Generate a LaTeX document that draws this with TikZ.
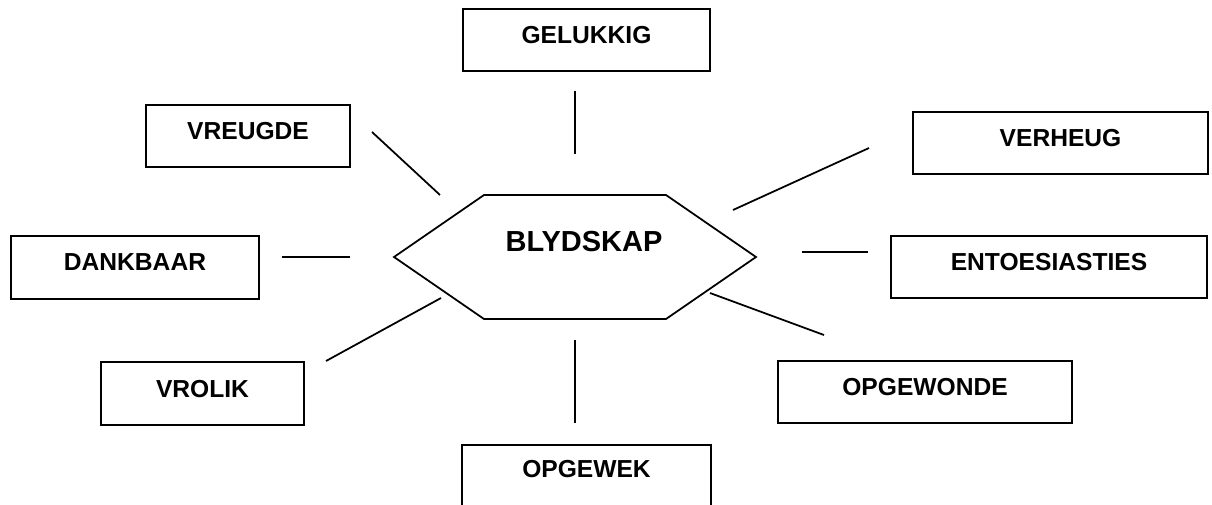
\documentclass[tikz,border=0pt]{standalone}
\usepackage{fontspec}
\setmainfont{Liberation Sans}
\usepackage{tikz}

\tikzset{
  woord/.style={draw,line width=1pt,rectangle,minimum height=1.24cm,
    text depth=5.7pt,font=\fontsize{14}{16}\selectfont\bfseries,outer sep=0pt},
  streep/.style={line width=1pt}
}

\begin{document}
\begin{tikzpicture}[x=0.02cm,y=-0.02cm]
          \useasboundingbox (0,0) rectangle (1212,504);
          % middel
          \draw[line width=1pt] (394,257)--(484,195)--(666,195)--(756,257)
            --(666,319)--(484,319)--cycle;
          \node[font=\fontsize{16.5}{19}\selectfont\bfseries] (blydskap) at (584,242) {BLYDSKAP};
          % woorde
          \node[woord,minimum width=4.94cm] (gelukkig) at (586.5,40) {GELUKKIG};
          \node[woord,minimum width=4.08cm] (vreugde) at (248,136) {VREUGDE};
          \node[woord,minimum width=5.9cm] (verheug) at (1060.5,143) {VERHEUG};
          \node[woord,minimum width=4.96cm,minimum height=1.26cm] (dankbaar) at (135,267.5) {DANKBAAR};
          \node[woord,minimum width=6.32cm] (entoesiasties) at (1049,267) {ENTOESIASTIES};
          \node[woord,minimum width=4.06cm,minimum height=1.26cm] (vrolik) at (202.5,393.5) {VROLIK};
          \node[woord,minimum width=5.88cm] (opgewonde) at (925,392) {OPGEWONDE};
          \node[woord,minimum width=4.98cm,text depth=8pt] (opgewek) at (586.5,476) {OPGEWEK};
          % strepe
          \coordinate (gel-a) at (575,91);   \coordinate (gel-b) at (575,154);
          \coordinate (vre-a) at (372,132);  \coordinate (vre-b) at (440,195);
          \coordinate (ver-a) at (869,148);  \coordinate (ver-b) at (733,210);
          \coordinate (dan-a) at (282,257);  \coordinate (dan-b) at (350,257);
          \coordinate (ent-a) at (868,252);  \coordinate (ent-b) at (802,252);
          \coordinate (vro-a) at (326,361);  \coordinate (vro-b) at (441,298);
          \coordinate (opw-a) at (824,335);  \coordinate (opw-b) at (710,293);
          \coordinate (opg-a) at (575,423);  \coordinate (opg-b) at (575,340);
          \draw[streep] (gel-a)--(gel-b);
          \draw[streep] (vre-a)--(vre-b);
          \draw[streep] (ver-a)--(ver-b);
          \draw[streep] (dan-a)--(dan-b);
          \draw[streep] (ent-a)--(ent-b);
          \draw[streep] (vro-a)--(vro-b);
          \draw[streep] (opw-a)--(opw-b);
          \draw[streep] (opg-a)--(opg-b);
        \end{tikzpicture}
\end{document}
